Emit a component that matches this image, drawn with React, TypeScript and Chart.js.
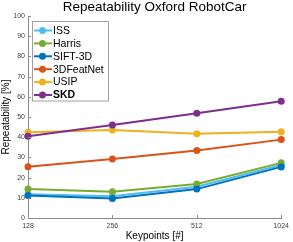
import React, { useEffect, useRef } from 'react';
import { Chart, registerables } from 'chart.js';

Chart.register(...registerables);

const categories = ['128', '256', '512', '1024'];
const seriesNames = ['ISS', 'Harris', 'SIFT-3D', '3DFeatNet', 'USIP', 'SKD'];
const issValues = [11.7, 10.8, 15.5, 26.2];
const harrisValues = [14.3, 13.0, 16.8, 27.3];
const sift3dValues = [11.2, 9.7, 14.3, 25.3];
const featNetValues = [25.4, 29.2, 33.4, 38.8];
const usipValues = [42.4, 43.6, 41.7, 42.7];
const skdValues = [40.5, 46.0, 51.8, 57.8];
const seriesColors = ['#4DBEEE', '#77AC30', '#0072BD', '#D95319', '#EDB120', '#7E2F8E'];
const yMin = 0;
const yMax = 100;
const yStep = 10;

const FONT = "'Liberation Sans', Arial, Helvetica, sans-serif";

const innerTicksPlugin = {
  id: 'innerTicks',
  afterDraw(chart: any) {
    const ctx = chart.ctx;
    const xs = chart.scales.x;
    const ys = chart.scales.y;
    const area = chart.chartArea;
    ctx.save();
    ctx.strokeStyle = '#8c8c8c';
    ctx.lineWidth = 1;
    ys.ticks.forEach((t: any) => {
      const py = Math.round(ys.getPixelForValue(t.value)) + 0.5;
      ctx.beginPath();
      ctx.moveTo(area.left, py);
      ctx.lineTo(area.left + 3, py);
      ctx.stroke();
    });
    xs.ticks.forEach((_t: any, i: number) => {
      const px = Math.round(xs.getPixelForTick(i)) + 0.5;
      ctx.beginPath();
      ctx.moveTo(px, area.bottom);
      ctx.lineTo(px, area.bottom - 3);
      ctx.stroke();
    });
    ctx.restore();
  },
};

const boxLegendPlugin = {
  id: 'boxLegend',
  afterDraw(chart: any) {
    const ctx = chart.ctx;
    const left = 32.5;
    const top = 21.5;
    const width = 76;
    const rowH = 12.9;
    const n = chart.data.datasets.length;
    const height = 79.5;
    ctx.save();
    ctx.fillStyle = '#ffffff';
    ctx.fillRect(left, top, width, height);
    ctx.strokeStyle = '#a0a0a0';
    ctx.lineWidth = 1;
    ctx.strokeRect(left, top, width, height);
    for (let i = 0; i < n; i++) {
      const ds = chart.data.datasets[i];
      const cy = top + 9 + i * rowH;
      ctx.strokeStyle = ds.borderColor;
      ctx.lineWidth = 2;
      ctx.beginPath();
      ctx.moveTo(left + 1.5, cy);
      ctx.lineTo(left + 19.5, cy);
      ctx.stroke();
      ctx.fillStyle = ds.borderColor;
      ctx.beginPath();
      ctx.arc(left + 10, cy, 3.5, 0, Math.PI * 2);
      ctx.fill();
      ctx.fillStyle = '#000000';
      ctx.font = (ds.label === 'SKD' ? 'bold ' : '') + '10.5px ' + FONT;
      ctx.textBaseline = 'middle';
      ctx.textAlign = 'left';
      ctx.fillText(ds.label, left + 20.5, cy + 0.5);
    }
    ctx.restore();
  },
};

export default function App() {
  const canvasRef = useRef<HTMLCanvasElement | null>(null);

  useEffect(() => {
    const canvas = canvasRef.current;
    if (!canvas) return;
    Chart.defaults.font.family = FONT;
    const allValues = [issValues, harrisValues, sift3dValues, featNetValues, usipValues, skdValues];
    const datasets = seriesNames.map((name, i) => ({
      label: name,
      data: allValues[i],
      borderColor: seriesColors[i],
      backgroundColor: seriesColors[i],
      pointBackgroundColor: seriesColors[i],
      pointBorderColor: seriesColors[i],
      pointRadius: 3.5,
      pointBorderWidth: 0,
      borderWidth: 2,
      tension: 0,
      clip: false as any,
      order: seriesNames.length - i,
    }));
    const chart = new Chart(canvas, {
      type: 'line',
      data: { labels: categories, datasets },
      options: {
        animation: false,
        responsive: false,
        layout: { padding: { left: 0, right: 9, top: 0, bottom: 0 } },
        plugins: {
          legend: { display: false },
          tooltip: { enabled: false },
          title: {
            display: true,
            text: 'Repeatability Oxford RobotCar',
            fullSize: false,
            color: '#000000',
            font: { size: 13.5, weight: 'normal', lineHeight: 1 },
            padding: { top: 0.5, bottom: 2 },
          },
        },
        scales: {
          x: {
            type: 'category',
            offset: false,
            grid: { display: true, drawOnChartArea: false, drawTicks: false },
            border: { display: true, color: '#8c8c8c', width: 1 },
            ticks: { font: { size: 7 }, color: '#404040', padding: 4, maxRotation: 0 },
            title: {
              display: true,
              text: 'Keypoints [#]',
              color: '#000000',
              font: { size: 10 },
              padding: { top: 0, bottom: 0 },
            },
            afterFit: (s: any) => { s.height = 24; },
          },
          y: {
            min: yMin,
            max: yMax,
            grid: { display: true, drawOnChartArea: false, drawTicks: false },
            border: { display: true, color: '#8c8c8c', width: 1 },
            ticks: { stepSize: yStep, font: { size: 7 }, color: '#404040', padding: 3 },
            title: {
              display: true,
              text: 'Repeatability [%]',
              color: '#000000',
              font: { size: 10 },
              padding: { top: 0, bottom: 0 },
            },
            afterFit: (s: any) => { s.width = 28; },
          },
        },
      },
      plugins: [innerTicksPlugin, boxLegendPlugin],
    });
    return () => chart.destroy();
  }, []);

  return (
    <div style={{ position: 'fixed', left: 0, top: 0, width: 293, height: 242, background: '#fff' }}>
      <canvas ref={canvasRef} width={293} height={242} style={{ display: 'block' }} />
    </div>
  );
}
